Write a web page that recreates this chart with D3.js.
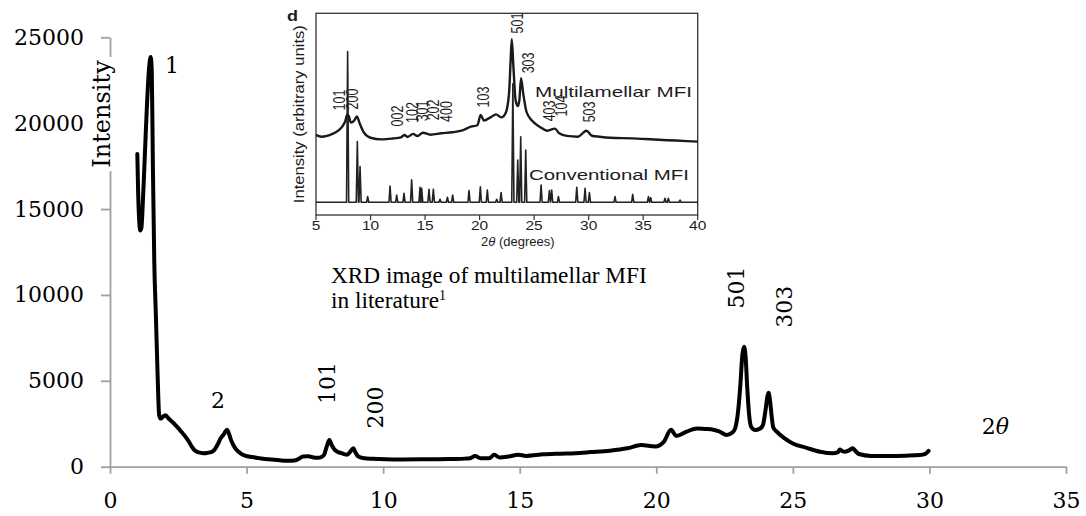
<!DOCTYPE html>
<html><head><meta charset="utf-8">
<script src="https://cdn.jsdelivr.net/npm/d3@7"></script>
<style>body{margin:0;background:#fff}svg{display:block}</style>
</head><body><svg id="c" width="1086" height="516"></svg>
<script>
// ---------- main chart data ----------
const twoTheta = [1.00,1.03,1.07,1.11,1.15,1.20,1.28,1.36,1.43,1.49,1.53,1.57,1.62,1.68,1.74,1.80,1.86,1.93,2.03,2.12,2.25,2.38,2.50,2.63,2.76,2.89,3.00,3.08,3.25,3.41,3.55,3.66,3.78,3.86,3.96,4.05,4.17,4.28,4.36,4.43,4.52,4.63,4.78,4.95,5.2,5.46,5.8,6.23,6.5,6.75,6.9,7.07,7.26,7.45,7.6,7.76,7.84,7.93,8.03,8.12,8.23,8.35,8.48,8.6,8.68,8.8,8.91,8.98,9.06,9.2,9.32,9.6,10.09,10.7,11.38,12.0,12.66,13.0,13.17,13.37,13.56,13.88,14.07,14.27,14.59,14.95,15.23,15.87,16.5,17.03,17.6,18.30,18.94,19.45,19.96,20.28,20.54,20.73,21.11,21.49,21.8,22.0,22.3,22.58,22.8,22.9,23.0,23.08,23.15,23.21,23.27,23.33,23.40,23.48,23.62,23.78,23.9,24.0,24.07,24.11,24.16,24.22,24.28,24.41,24.7,25.0,25.5,26.0,26.46,26.65,26.72,26.82,26.91,27.05,27.2,27.3,27.42,27.86,28.5,29.14,29.65,29.85,29.97];
const intensity = [18200,16000,14300,13750,13900,15300,18300,21300,23200,23850,23000,17500,12000,8800,5500,3000,2800,2900,3000,2850,2650,2450,2250,2000,1750,1450,1150,980,830,790,800,830,920,1070,1350,1650,1900,2150,1900,1560,1250,980,780,640,560,500,430,370,350,360,450,600,610,540,520,580,700,1150,1550,1250,980,850,790,720,700,880,1080,850,640,530,490,460,430,420,430,440,450,470,490,620,490,490,690,530,590,700,630,720,760,790,850,930,1070,1260,1170,1460,2150,1790,2040,2230,2200,2180,2050,1850,2000,2300,3300,4800,6500,6990,6400,4600,3000,2300,2140,2200,2400,3300,4100,4300,3900,3000,2300,2040,1650,1350,1100,870,780,850,1000,900,870,950,1070,900,740,630,620,640,680,750,920];
const xTickValues = [0,5,10,15,20,25,30,35];
const yTickValues = [0,5000,10000,15000,20000,25000];
const yAxisTitle = "Intensity";
const peakNames = ["1","2","101","200","501","303"];
const peakAt2Theta = [2.01,3.95,8.22,10.0,23.22,24.97];
const peakAtIntensity = [22920,3418,4873,3447,10433,9315];
const peakRotated = [false,false,true,true,true,true];
const noteLines = ["XRD image of multilamellar MFI","in literature"];

// ---------- inset (literature figure) data ----------
const mlTheta = [5.0,5.5,6.0,6.5,7.0,7.4,7.7,7.85,8.0,8.2,8.5,8.75,9.0,9.4,10.0,11.0,12.0,12.8,13.1,13.4,13.9,14.3,14.8,15.5,16.5,17.5,18.5,19.2,19.8,20.1,20.4,21.0,21.5,22.0,22.4,22.7,22.85,22.95,23.1,23.3,23.5,23.65,23.8,24.0,24.3,24.8,25.5,26.2,26.9,27.3,28.0,29.0,29.8,30.3,31.0,32.0,34.0,36.0,38.0,40.0];
const mlValue = [39.7,38.8,39.2,40.2,41.7,43.8,46.8,49.6,49.1,45.8,46.8,48.8,45.5,40.8,38.3,37.5,37.9,38.5,39.7,38.7,40.2,39.2,40.8,39.8,40.5,41.0,42.1,43.8,44.5,49.6,46.8,48.4,49.9,48.4,50.7,60.3,76.9,87.1,73.6,57.0,54.0,57.0,67.8,60.3,51.2,46.8,43.8,41.8,42.8,40.5,39.2,38.8,41.8,39.3,38.8,38.3,38.0,37.4,36.9,36.4];
const convBase = 6.3;
const convTheta = [7.90,8.79,9.04,9.74,11.79,12.40,13.07,13.77,14.54,14.69,15.36,15.76,16.37,17.05,17.53,19.03,20.07,20.71,21.57,21.97,23.05,23.50,23.77,24.23,25.64,26.40,26.61,27.23,28.91,29.67,30.07,32.42,34.04,35.48,35.69,37.0,37.31,38.38];
const convValue = [81,36.4,24,9.1,14.4,9.9,10.7,17.4,13.7,13.2,12.7,12.7,7.8,8.8,9.9,12.1,14.0,12.4,7.8,11.1,65,27.3,38.8,32.2,14.9,12.1,12.4,9.1,13.7,13.2,11.1,9.1,10.2,9.1,8.6,8.3,8.3,7.4];
const insetTicks = [5,10,15,20,25,30,35,40];
const hklNames = ["101","200","002","102","301","202","400","103","501","303","403","104","503"];
const hklTheta = [7.11,8.30,12.47,13.80,14.77,15.77,16.92,20.31,23.43,24.44,26.36,27.46,30.03];
const hklValue = [57.0,57.5,49.1,50.8,51.6,52.1,51.3,58.5,95.2,75.4,51.6,54.0,51.1];
const seriesNames = ["Multilamellar MFI","Conventional MFI"];
const seriesNameTheta = [25.08,24.53];
const seriesNameValue = [58.7,17.35];
const insetYTitle = "Intensity (arbitrary units)";
const insetPanel = "d";

// ---------- drawing ----------
const svg = d3.select("#c");
svg.append("rect").attr("width",1086).attr("height",516).attr("fill","#fff");
const serif = "'DejaVu Serif', serif";
const sans = "'Liberation Sans', Arial, sans-serif";

const x = d3.scaleLinear().domain([0,35]).range([110,1066]);
const y = d3.scaleLinear().domain([0,25000]).range([466.7,37.3]);

const axisColor = "#a0a0a0";
const gx = svg.append("g").attr("transform","translate(0,466.7)")
  .call(d3.axisBottom(x).tickValues(xTickValues).tickFormat(d3.format("d")).tickSizeInner(7).tickSizeOuter(0).tickPadding(19));
const gy = svg.append("g").attr("transform","translate(110,0)")
  .call(d3.axisLeft(y).tickValues(yTickValues).tickFormat(d3.format("d")).tickSizeInner(9).tickSizeOuter(0).tickPadding(17));
[gx,gy].forEach(g=>{
  g.select(".domain").attr("stroke",axisColor).attr("stroke-width",1.8);
  g.selectAll(".tick line").attr("stroke",axisColor).attr("stroke-width",1.8);
  g.selectAll(".tick text").attr("fill","#000").style("font-family",serif).style("font-size","22px");
});

// y axis title with white box
const yt = svg.append("g").attr("transform","translate(110,114) rotate(-90)");
yt.append("rect").attr("x",-57).attr("y",-20).attr("width",114).attr("height",28).attr("fill","#fff");
yt.append("text").attr("text-anchor","middle").attr("y",0)
  .style("font-family",serif).style("font-size","24px").attr("fill","#000").text(yAxisTitle);

// main curve
const mainData = twoTheta.map((t,i)=>[t,intensity[i]]);
svg.append("path").datum(mainData)
  .attr("fill","none").attr("stroke","#000").attr("stroke-width",4)
  .attr("stroke-linejoin","round").attr("stroke-linecap","round")
  .attr("d", d3.line().x(d=>x(d[0])).y(d=>y(d[1])).curve(d3.curveMonotoneX));

// peak annotations
peakNames.forEach((n,i)=>{
  const px = x(peakAt2Theta[i]), py = y(peakAtIntensity[i]);
  if (peakRotated[i]) {
    svg.append("text").attr("transform",`translate(${px},${py}) rotate(-90)`)
      .attr("text-anchor","middle").style("font-family",serif).style("font-size","22px").text(n);
  } else {
    svg.append("text").attr("x",px).attr("y",py)
      .attr("text-anchor", i===0 ? "start" : "middle")
      .style("font-family",serif).style("font-size","22px").text(n);
  }
});
// 2θ label
const tt = svg.append("text").attr("x",x(32.41)).attr("y",y(1904)).attr("text-anchor","middle")
  .style("font-family",serif).style("font-size","22px");
tt.append("tspan").text("2");
tt.append("tspan").style("font-style","italic").text("θ");

// note text
const note = svg.append("g").style("font-family","'Liberation Serif', 'Times New Roman', serif").style("font-size","23.3px");
note.append("text").attr("x",331).attr("y",283.3).text(noteLines[0]);
const n2 = note.append("text").attr("x",331).attr("y",308.3).text(noteLines[1]);
n2.append("tspan").attr("dy",-8).style("font-size","14px").text("1");

// ---------- inset ----------
const ix = d3.scaleLinear().domain([5,40]).range([316,697.7]);
const iy = d3.scaleLinear().domain([0,100]).range([215,13.3]);
const ink = "#1c1c1c";
const inset = svg.append("g");
inset.append("rect").attr("x",ix(5)).attr("y",iy(100)).attr("width",ix(40)-ix(5)).attr("height",iy(0)-iy(100))
  .attr("fill","none").attr("stroke","#333").attr("stroke-width",1.3);
insetTicks.forEach(t=>{
  inset.append("line").attr("x1",ix(t)).attr("x2",ix(t)).attr("y1",iy(0)).attr("y2",iy(0)+5)
    .attr("stroke","#333").attr("stroke-width",1.2);
  inset.append("text").attr("x",ix(t)).attr("y",iy(0)+14.8).attr("text-anchor","middle")
    .attr("textLength", String(t).length*8.6).attr("lengthAdjust","spacingAndGlyphs")
    .style("font-family",sans).style("font-size","12.5px").attr("fill",ink).text(t);
});
const xt = inset.append("text").attr("x",ix(23.5)).attr("y",iy(0)+30.5)
  .attr("text-anchor","middle").style("font-family",sans).style("font-size","13px").attr("fill",ink);
xt.append("tspan").text("2");
xt.append("tspan").style("font-style","italic").text("θ");
xt.append("tspan").text(" (degrees)");
inset.append("text").attr("transform",`translate(${ix(5)-17},${(iy(0)+iy(100))/2}) scale(1.2,1) rotate(-90)`)
  .attr("text-anchor","middle").attr("dy","0.35em").attr("textLength",178).attr("lengthAdjust","spacingAndGlyphs")
  .style("font-family",sans).style("font-size","12.5px").attr("fill",ink).text(insetYTitle);
inset.append("text").attr("x",287).attr("y",21).attr("textLength",11).attr("lengthAdjust","spacingAndGlyphs")
  .style("font-family",sans).style("font-weight","bold").style("font-size","15px").attr("fill",ink).text(insetPanel);

// conventional pattern: stick peaks on a flat baseline
const convPts = [[5,convBase]];
convTheta.forEach((t,i)=>{ convPts.push([t-0.1,convBase],[t,convValue[i]],[t+0.1,convBase]); });
convPts.push([40,convBase]);
inset.append("path").datum(convPts).attr("fill","none").attr("stroke","#222").attr("stroke-width",1.6)
  .attr("stroke-linejoin","round")
  .attr("d", d3.line().x(d=>ix(d[0])).y(d=>iy(d[1])));
const mlData = mlTheta.map((t,i)=>[t,mlValue[i]]);
inset.append("path").datum(mlData).attr("fill","none").attr("stroke","#1a1a1a").attr("stroke-width",2.4)
  .attr("stroke-linejoin","round")
  .attr("d", d3.line().x(d=>ix(d[0])).y(d=>iy(d[1])).curve(d3.curveMonotoneX));

hklNames.forEach((n,i)=>{
  inset.append("text").attr("transform",`translate(${ix(hklTheta[i])},${iy(hklValue[i])}) scale(1.33,1) rotate(-90)`)
    .attr("text-anchor","middle").attr("dy","0.35em")
    .style("font-family",sans).style("font-size","12.5px").attr("fill",ink).text(n);
});
seriesNames.forEach((n,i)=>{
  inset.append("text").attr("x",ix(seriesNameTheta[i])).attr("y",iy(seriesNameValue[i]))
    .attr("textLength", i===0?157:160).attr("lengthAdjust","spacingAndGlyphs")
    .style("font-family",sans).style("font-size", i===0?"15px":"15.5px").attr("fill",ink).text(n);
});
</script></body></html>
